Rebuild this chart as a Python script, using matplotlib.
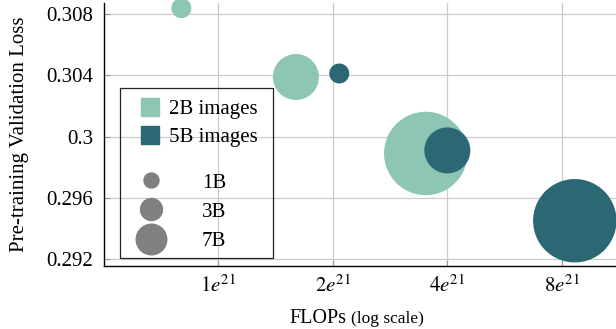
import matplotlib
matplotlib.use("Agg")
import matplotlib.pyplot as plt
from matplotlib.lines import Line2D
from matplotlib.patches import Rectangle

plt.rcParams['font.family'] = ['Liberation Serif', 'DejaVu Serif']
plt.rcParams['mathtext.fontset'] = 'stix'

# data (FLOPs in units of 1e21)
model_sizes = ['1B', '3B', '7B']
flops_2b = [0.80, 1.60, 3.51]
loss_2b = [0.3084, 0.3039, 0.2989]
flops_5b = [2.08, 4.00, 8.65]
loss_5b = [0.30413, 0.2991, 0.2945]

x_ticks = [1, 2, 4, 8]
x_ticklabels = [r'$1e^{21}$', r'$2e^{21}$', r'$4e^{21}$', r'$8e^{21}$']
y_ticks = [0.292, 0.296, 0.300, 0.304, 0.308]
y_ticklabels = ['0.292', '0.296', '0.3', '0.304', '0.308']

color_2b = '#8ec6b6'
color_5b = '#2c6774'
bubble_area = {'1B': 207, '3B': 1097, '7B': 3606}
legend_msize = {'1B': 10.8, '3B': 15.8, '7B': 22.0}

fig = plt.figure(figsize=(6.16, 3.29), dpi=100)
ax = fig.add_axes([104 / 616, 1 - 265.7 / 329, 1 - 104 / 616, (265.7 - 3) / 329])

ax.scatter(flops_2b, loss_2b, s=[bubble_area[m] for m in model_sizes],
           color=color_2b, linewidths=0, zorder=3, clip_on=False)
ax.scatter(flops_5b, loss_5b, s=[bubble_area[m] for m in model_sizes],
           color=color_5b, linewidths=0, zorder=4, clip_on=False)

ax.set_xscale('log')
ax.set_xlim(0.501, 11.1)
ax.set_ylim(0.29156, 0.30874)
ax.set_xticks(x_ticks)
ax.set_xticklabels(x_ticklabels)
ax.minorticks_off()
ax.set_yticks(y_ticks)
ax.set_yticklabels(y_ticklabels)

ax.grid(True, color='#cccccc', linewidth=0.9, zorder=0)
ax.set_axisbelow(True)
ax.tick_params(axis='both', direction='in', length=4.3, width=0.8, color='#999999')
ax.tick_params(axis='y', labelsize=15, pad=8)
ax.tick_params(axis='x', labelsize=15, pad=7)

for side in ['top', 'right']:
    ax.spines[side].set_visible(False)
for side in ['left', 'bottom']:
    ax.spines[side].set_linewidth(1.0)
    ax.spines[side].set_color('black')

ax.set_ylabel('Pre-training Validation Loss', fontsize=15, labelpad=12)
fig.text(346 / 616, 1 - 322.7 / 329, 'FLOPs', fontsize=14.5, ha='right', va='baseline')
fig.text(351 / 616, 1 - 322.7 / 329, '(log scale)', fontsize=12.5, ha='left', va='baseline')

# legends: colours on top, model sizes below, one shared frame
color_handles = [
    Line2D([], [], marker='s', linestyle='none', markersize=12.7, color=color_2b),
    Line2D([], [], marker='s', linestyle='none', markersize=12.7, color=color_5b),
]
leg1 = ax.legend(color_handles, ['2B images', '5B images'], loc='upper left',
                 bbox_to_anchor=(139.9 / 616, 1 - 99.4 / 329), bbox_transform=fig.transFigure,
                 frameon=False, fontsize=15, borderpad=0, borderaxespad=0,
                 handlelength=1.0, handletextpad=0.41, labelspacing=0.41)
ax.add_artist(leg1)

size_handles = [Line2D([], [], marker='o', linestyle='none', markersize=legend_msize[m],
                       color='#808080') for m in model_sizes]
ax.legend(size_handles, model_sizes, loc='upper left',
          bbox_to_anchor=(140.3 / 616, 1 - 173 / 329), bbox_transform=fig.transFigure,
          frameon=False, fontsize=15, borderpad=0, borderaxespad=0,
          handlelength=1.0, handletextpad=1.95, labelspacing=0.46)

fig.add_artist(Rectangle((120 / 616, 1 - 257.7 / 329), 153 / 616, 170 / 329,
                         transform=fig.transFigure, fill=False,
                         edgecolor='#222222', linewidth=0.9))

fig.savefig('out.png', dpi=100)
